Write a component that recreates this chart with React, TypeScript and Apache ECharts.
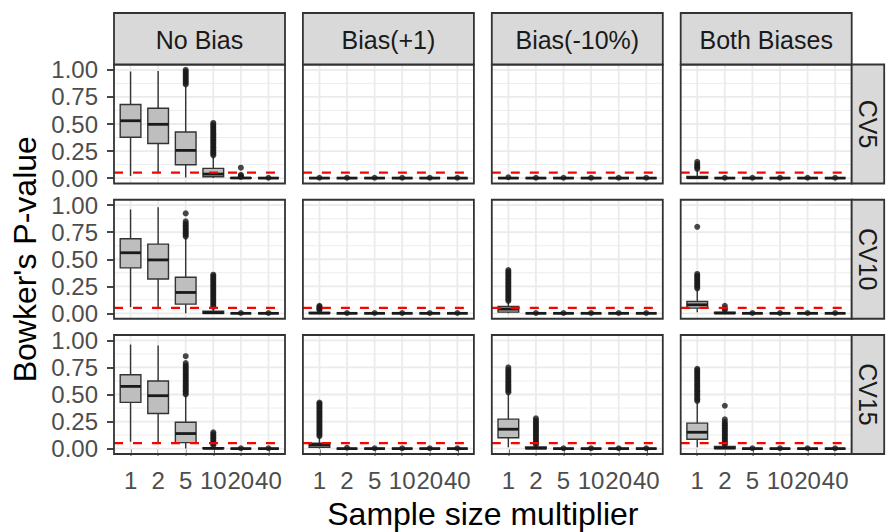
import React, { useEffect, useRef } from "react";
import * as echarts from "echarts";

// ---------------- data ----------------
const facetCols = ["No Bias", "Bias(+1)", "Bias(-10%)", "Both Biases"];
const facetRows = ["CV5", "CV10", "CV15"];
const multipliers = ["1", "2", "5", "10", "20", "40"];
const yMajorTicks = [0, 0.25, 0.5, 0.75, 1];
const yMinorTicks = [0.125, 0.375, 0.625, 0.875];
const yTickLabels = ["0.00", "0.25", "0.50", "0.75", "1.00"];
const pThreshold = 0.05;
const xTitle = "Sample size multiplier";
const yTitle = "Bowker's P-value";

// box stats per category: [lower whisker, Q1, median, Q3, upper whisker]
const zeroBox = [0, 0, 0, 0, 0.001];

const boxNoBiasCV5 = [[0.02, 0.377, 0.53, 0.68, 0.985], [0.05, 0.32, 0.497, 0.645, 0.99], [0.006, 0.123, 0.256, 0.426, 0.85], [0, 0.012, 0.037, 0.09, 0.2], [0, 0, 0.001, 0.003, 0.006], zeroBox];
const boxNoBiasCV10 = [[0.057, 0.42, 0.56, 0.69, 0.96], [0.057, 0.317, 0.494, 0.64, 0.98], [0, 0.085, 0.193, 0.333, 0.7], [0, 0, 0.005, 0.02, 0.05], zeroBox, zeroBox];
const boxNoBiasCV15 = [[0.064, 0.427, 0.575, 0.683, 0.962], [0.049, 0.325, 0.489, 0.625, 0.953], [0, 0.055, 0.139, 0.244, 0.49], [0, 0, 0.002, 0.008, 0.02], zeroBox, zeroBox];

const boxBiasPlusCV5 = [zeroBox, zeroBox, zeroBox, zeroBox, zeroBox, zeroBox];
const boxBiasPlusCV10 = [[0, 0, 0.002, 0.008, 0.02], zeroBox, zeroBox, zeroBox, zeroBox, zeroBox];
const boxBiasPlusCV15 = [[0, 0.012, 0.035, 0.049, 0.104], zeroBox, zeroBox, zeroBox, zeroBox, zeroBox];

const boxBiasMinusCV5 = [zeroBox, zeroBox, zeroBox, zeroBox, zeroBox, zeroBox];
const boxBiasMinusCV10 = [[0, 0.011, 0.039, 0.063, 0.104], zeroBox, zeroBox, zeroBox, zeroBox, zeroBox];
const boxBiasMinusCV15 = [[0.012, 0.1, 0.179, 0.272, 0.507], [0, 0, 0.003, 0.015, 0.03], zeroBox, zeroBox, zeroBox, zeroBox];

const boxBothCV5 = [[0, 0, 0.003, 0.015, 0.074], zeroBox, zeroBox, zeroBox, zeroBox, zeroBox];
const boxBothCV10 = [[0.01, 0.048, 0.079, 0.11, 0.218], [0, 0, 0.002, 0.01, 0.02], zeroBox, zeroBox, zeroBox, zeroBox];
const boxBothCV15 = [[0.012, 0.086, 0.151, 0.235, 0.427], [0, 0, 0.005, 0.02, 0.03], zeroBox, zeroBox, zeroBox, zeroBox];

// outliers per category
const z = [0.003];
const outNoBiasCV5 = [[], [], [0.865, 0.88, 0.895, 0.91, 0.925, 0.94, 0.955, 0.97, 0.985, 1.0], [0.21, 0.225, 0.24, 0.255, 0.27, 0.285, 0.3, 0.315, 0.33, 0.345, 0.36, 0.375, 0.39, 0.405, 0.42, 0.435, 0.45, 0.465, 0.48, 0.495, 0.51], [0.012, 0.02, 0.03, 0.096], z];
const outNoBiasCV10 = [[], [], [0.71, 0.725, 0.74, 0.755, 0.77, 0.785, 0.8, 0.815, 0.83, 0.85, 0.924], [0.06, 0.075, 0.09, 0.105, 0.12, 0.135, 0.15, 0.165, 0.18, 0.195, 0.21, 0.225, 0.24, 0.255, 0.27, 0.285, 0.3, 0.315, 0.33, 0.345, 0.357], z, z];
const outNoBiasCV15 = [[], [], [0.5, 0.515, 0.53, 0.545, 0.56, 0.575, 0.59, 0.605, 0.62, 0.635, 0.65, 0.665, 0.68, 0.695, 0.71, 0.725, 0.74, 0.755, 0.77, 0.79, 0.854], [0.03, 0.045, 0.06, 0.075, 0.09, 0.105, 0.12, 0.135, 0.15], z, z];

const outBiasPlusCV5 = [z, z, z, z, z, z];
const outBiasPlusCV10 = [[0.03, 0.04, 0.05, 0.06, 0.07], z, z, z, z, z];
const outBiasPlusCV15 = [[0.115, 0.13, 0.145, 0.16, 0.175, 0.19, 0.205, 0.22, 0.235, 0.25, 0.265, 0.28, 0.295, 0.31, 0.325, 0.34, 0.355, 0.37, 0.385, 0.4, 0.415, 0.426], [0.008], z, z, z, z];

const outBiasMinusCV5 = [[0.008], z, z, z, z, z];
const outBiasMinusCV10 = [[0.115, 0.13, 0.145, 0.16, 0.175, 0.19, 0.205, 0.22, 0.235, 0.25, 0.265, 0.28, 0.295, 0.31, 0.325, 0.34, 0.355, 0.37, 0.385, 0.4], z, z, z, z, z];
const outBiasMinusCV15 = [[0.52, 0.535, 0.55, 0.565, 0.58, 0.595, 0.61, 0.625, 0.64, 0.655, 0.67, 0.685, 0.7, 0.715, 0.73, 0.75], [0.035, 0.05, 0.065, 0.08, 0.095, 0.11, 0.125, 0.14, 0.155, 0.17, 0.185, 0.2, 0.215, 0.23, 0.245, 0.26, 0.28], z, z, z, z];

const outBothCV5 = [[0.085, 0.1, 0.115, 0.13, 0.15], z, z, z, z, z];
const outBothCV10 = [[0.23, 0.245, 0.26, 0.275, 0.29, 0.305, 0.32, 0.335, 0.35, 0.364, 0.8], [0.03, 0.045, 0.07], z, z, z, z];
const outBothCV15 = [[0.44, 0.455, 0.47, 0.485, 0.5, 0.515, 0.53, 0.545, 0.56, 0.575, 0.59, 0.605, 0.62, 0.635, 0.65, 0.665, 0.68, 0.695, 0.71, 0.725, 0.738], [0.035, 0.05, 0.065, 0.08, 0.095, 0.11, 0.125, 0.14, 0.155, 0.17, 0.185, 0.2, 0.215, 0.23, 0.245, 0.27, 0.396], z, z, z, z];

// [row][col]
const boxTable = [
  [boxNoBiasCV5, boxBiasPlusCV5, boxBiasMinusCV5, boxBothCV5],
  [boxNoBiasCV10, boxBiasPlusCV10, boxBiasMinusCV10, boxBothCV10],
  [boxNoBiasCV15, boxBiasPlusCV15, boxBiasMinusCV15, boxBothCV15],
];
const outTable = [
  [outNoBiasCV5, outBiasPlusCV5, outBiasMinusCV5, outBothCV5],
  [outNoBiasCV10, outBiasPlusCV10, outBiasMinusCV10, outBothCV10],
  [outNoBiasCV15, outBiasPlusCV15, outBiasMinusCV15, outBothCV15],
];

// ---------------- layout / style ----------------
const FONT = "'Liberation Sans', Arial, Helvetica, sans-serif";
const PANEL_LEFT0 = 114;
const COL_STEP = 188.9;
const PANEL_W = 171;
const PANEL_TOP0 = 64.5;
const ROW_STEP = 135.25;
const PANEL_H = 119;
const STRIP_TOP = 13;
const STRIP_RIGHT_W = 32.5;
const X_MIN = 0.4, X_MAX = 6.6;
const Y_MIN = -0.05, Y_MAX = 1.05;
const BOX_W = 0.75;
const DARK = "#333333";

export default function App() {
  const ref = useRef<HTMLDivElement>(null);

  useEffect(() => {
    if (!ref.current) return;
    document.body.style.margin = "0";
    const chart = echarts.init(ref.current, null, { renderer: "svg" });

    const xVals = multipliers.map((_, i) => i + 1);
    const grids: any[] = [];
    const xAxes: any[] = [];
    const yAxes: any[] = [];
    const series: any[] = [];
    const graphics: any[] = [];

    for (let r = 0; r < facetRows.length; r++) {
      for (let c = 0; c < facetCols.length; c++) {
        const idx = r * facetCols.length + c;
        const left = PANEL_LEFT0 + c * COL_STEP;
        const top = PANEL_TOP0 + r * ROW_STEP;
        grids.push({ left, top, width: PANEL_W, height: PANEL_H, show: true, backgroundColor: "#ffffff", borderWidth: 0 });
        xAxes.push({
          type: "value", gridIndex: idx, min: X_MIN, max: X_MAX,
          axisLine: { show: false }, splitLine: { show: false },
          axisTick: { show: r === facetRows.length - 1, customValues: xVals, length: 7, lineStyle: { color: DARK, width: 1.8 } },
          axisLabel: {
            show: r === facetRows.length - 1, customValues: xVals,
            formatter: (v: number) => multipliers[Math.round(v) - 1] ?? "",
            color: "#4D4D4D", fontSize: 24, fontFamily: FONT, margin: 14,
          },
        });
        yAxes.push({
          type: "value", gridIndex: idx, min: Y_MIN, max: Y_MAX,
          axisLine: { show: false }, splitLine: { show: false },
          axisTick: { show: c === 0, customValues: yMajorTicks, length: 7, lineStyle: { color: DARK, width: 1.8 } },
          axisLabel: {
            show: c === 0, customValues: yMajorTicks,
            formatter: (v: number) => yTickLabels[yMajorTicks.findIndex((t) => Math.abs(t - v) < 1e-9)] ?? "",
            color: "#4D4D4D", fontSize: 24, fontFamily: FONT, margin: 16,
          },
        });

        // grid lines
        const gridData: number[][] = [
          ...yMinorTicks.map((v) => [0, v, 0]),
          ...yMajorTicks.map((v) => [0, v, 1]),
          ...xVals.map((v) => [1, v, 1]),
        ];
        series.push({
          type: "custom", xAxisIndex: idx, yAxisIndex: idx, silent: true, z: 1,
          data: gridData,
          renderItem: (_p: any, api: any) => {
            const o = api.value(0), v = api.value(1), major = api.value(2);
            const p1 = o === 0 ? api.coord([X_MIN, v]) : api.coord([v, Y_MIN]);
            const p2 = o === 0 ? api.coord([X_MAX, v]) : api.coord([v, Y_MAX]);
            return { type: "line", shape: { x1: p1[0], y1: p1[1], x2: p2[0], y2: p2[1] }, style: { stroke: "#EBEBEB", lineWidth: major ? 1.8 : 0.9 } };
          },
        });

        // boxes
        const boxes = boxTable[r][c].map((b, i) => [i + 1, ...b]);
        series.push({
          type: "custom", xAxisIndex: idx, yAxisIndex: idx, silent: true, z: 2,
          encode: { x: 0, y: [1, 2, 3, 4, 5] },
          data: boxes,
          renderItem: (_p: any, api: any) => {
            const x = api.value(0);
            const lo = api.coord([x, api.value(1)]);
            const q1 = api.coord([x, api.value(2)]);
            const md = api.coord([x, api.value(3)]);
            const q3 = api.coord([x, api.value(4)]);
            const hi = api.coord([x, api.value(5)]);
            const half = api.size([BOX_W, 0])[0] / 2;
            const cx = lo[0];
            const ls = { stroke: DARK, lineWidth: 1.4 };
            return {
              type: "group",
              children: [
                { type: "line", shape: { x1: cx, y1: lo[1], x2: cx, y2: q1[1] }, style: ls },
                { type: "line", shape: { x1: cx, y1: q3[1], x2: cx, y2: hi[1] }, style: ls },
                { type: "rect", shape: { x: cx - half, y: q3[1], width: half * 2, height: Math.max(q1[1] - q3[1], 0) }, style: { fill: "#BEBEBE", stroke: DARK, lineWidth: 1.4 } },
                { type: "line", shape: { x1: cx - half, y1: md[1], x2: cx + half, y2: md[1] }, style: { stroke: "#1A1A1A", lineWidth: 2.8 } },
              ],
            };
          },
        });

        // outliers
        const outs: number[][] = [];
        outTable[r][c].forEach((vals, i) => vals.forEach((v) => outs.push([i + 1, v])));
        series.push({
          type: "scatter", xAxisIndex: idx, yAxisIndex: idx, silent: true, z: 3,
          symbol: "circle", symbolSize: 6,
          itemStyle: { color: "#1A1A1A" },
          data: outs,
        });

        // threshold line
        series.push({
          type: "custom", xAxisIndex: idx, yAxisIndex: idx, silent: true, z: 4,
          data: [[X_MIN, pThreshold]],
          renderItem: (_p: any, api: any) => {
            const v = api.value(1);
            const p1 = api.coord([X_MIN, v]);
            const p2 = api.coord([X_MAX, v]);
            return { type: "line", shape: { x1: p1[0], y1: p1[1], x2: p2[0], y2: p2[1] }, style: { stroke: "#FF0000", lineWidth: 2.2, lineDash: [9, 10] } };
          },
        });

        // panel border
        graphics.push({ type: "rect", z: 50, silent: true, shape: { x: left, y: top, width: PANEL_W, height: PANEL_H }, style: { fill: "none", stroke: DARK, lineWidth: 1.8 } });
      }
    }

    // top strips
    facetCols.forEach((name, c) => {
      const left = PANEL_LEFT0 + c * COL_STEP;
      graphics.push({ type: "rect", z: 50, silent: true, shape: { x: left, y: STRIP_TOP, width: PANEL_W, height: PANEL_TOP0 - STRIP_TOP }, style: { fill: "#D9D9D9", stroke: DARK, lineWidth: 1.8 } });
      graphics.push({ type: "text", z: 51, silent: true, x: left + PANEL_W / 2, y: (STRIP_TOP + PANEL_TOP0) / 2 + 1, style: { text: name, fill: "#1A1A1A", fontSize: 25, fontFamily: FONT, align: "center", verticalAlign: "middle" } });
    });
    // right strips
    const rightX = PANEL_LEFT0 + (facetCols.length - 1) * COL_STEP + PANEL_W;
    facetRows.forEach((name, r) => {
      const top = PANEL_TOP0 + r * ROW_STEP;
      graphics.push({ type: "rect", z: 50, silent: true, shape: { x: rightX, y: top, width: STRIP_RIGHT_W, height: PANEL_H }, style: { fill: "#D9D9D9", stroke: DARK, lineWidth: 1.8 } });
      graphics.push({ type: "text", z: 51, silent: true, x: rightX + STRIP_RIGHT_W / 2, y: top + PANEL_H / 2, rotation: -Math.PI / 2, style: { text: name, fill: "#1A1A1A", fontSize: 25, fontFamily: FONT, align: "center", verticalAlign: "middle" } });
    });
    // axis titles
    const gridBottom = PANEL_TOP0 + (facetRows.length - 1) * ROW_STEP + PANEL_H;
    graphics.push({ type: "text", silent: true, x: 25, y: (PANEL_TOP0 + gridBottom) / 2, rotation: Math.PI / 2, style: { text: yTitle, fill: "#000000", fontSize: 32, fontFamily: FONT, align: "center", verticalAlign: "middle" } });
    graphics.push({ type: "text", silent: true, x: (PANEL_LEFT0 + rightX) / 2, y: 514, style: { text: xTitle, fill: "#000000", fontSize: 32, fontFamily: FONT, align: "center", verticalAlign: "middle" } });

    chart.setOption({
      animation: false,
      backgroundColor: "#ffffff",
      grid: grids,
      xAxis: xAxes,
      yAxis: yAxes,
      series,
      graphic: graphics,
    });

    return () => chart.dispose();
  }, []);

  return <div ref={ref} style={{ position: "fixed", left: 0, top: 0, width: 894, height: 532 }} />;
}
